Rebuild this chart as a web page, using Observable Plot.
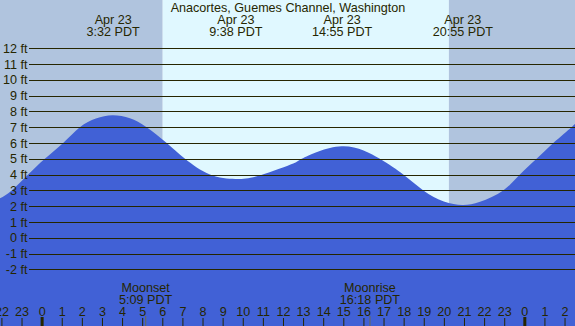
<!DOCTYPE html>
<html><head><meta charset="utf-8">
<script src="https://cdn.jsdelivr.net/npm/d3@7"></script>
<script src="https://cdn.jsdelivr.net/npm/@observablehq/plot@0.6"></script>
<style>body{margin:0;background:#fff}</style>
</head><body><div id="chart"></div>
<script>
const title = "Anacortes, Guemes Channel, Washington";
// hours relative to Apr 23 00:00 PDT, tide height in ft
const tideHours = [-2.07, -1.49, -0.67, 0.16, 1.07, 1.9, 2.7, 3.53, 4.39, 5.22, 6.22, 7.13, 8.37, 9.63, 10.85, 12.51, 12.93, 14.92, 16.82, 17.98, 18.98, 20.0, 20.92, 21.8, 22.95, 23.78, 24.61, 25.44, 26.35, 26.52];
const tideFeet  = [2.5, 3.0, 4.0, 5.0, 6.0, 7.0, 7.55, 7.75, 7.56, 7.0, 6.0, 5.0, 4.0, 3.72, 3.95, 4.7, 5.0, 5.8, 5.0, 4.0, 3.0, 2.3, 2.08, 2.28, 3.0, 4.0, 5.0, 6.0, 7.0, 7.25];
const extremeHours = [3.533, 9.633, 14.917, 20.917];
const extremeLabels = ["Apr 23\n3:32 PDT", "Apr 23\n9:38 PDT", "Apr 23\n14:55 PDT", "Apr 23\n20:55 PDT"];
const sunrise = 6.02, sunset = 20.25;
const moonHours = [5.15, 16.3];
const moonLabels = ["Moonset\n5:09 PDT", "Moonrise\n16:18 PDT"];
const feetTicks = [-2, -1, 0, 1, 2, 3, 4, 5, 6, 7, 8, 9, 10, 11, 12];
const hourTicks = [-2, -1, 0, 1, 2, 3, 4, 5, 6, 7, 8, 9, 10, 11, 12, 13, 14, 15, 16, 17, 18, 19, 20, 21, 22, 23, 24, 25, 26];
const xDomain = [-2.07, 26.52];
const yDomain = [-5.58, 15.05];

const nightColor = "#b0c4de", dayColor = "#e0f8ff", tideColor = "#4161d6", ink = "#262600";
const fs = 12.6;
const tide = tideHours.map((h, i) => ({h, ft: tideFeet[i]}));
const bands = [
  {x1: xDomain[0], x2: sunrise, fill: nightColor},
  {x1: sunrise, x2: sunset, fill: dayColor},
  {x1: sunset, x2: xDomain[1], fill: nightColor}
];
const mod24 = h => ((h % 24) + 24) % 24;

const chart = Plot.plot({
  width: 575, height: 326,
  margin: 0,
  x: {domain: xDomain, axis: null},
  y: {domain: yDomain, axis: null},
  style: {fontFamily: "'Liberation Sans', Arial, sans-serif", background: "transparent"},
  marks: [
    Plot.rect(bands, {x1: "x1", x2: "x2", y1: yDomain[0], y2: yDomain[1], fill: d => d.fill}),
    Plot.areaY(tide, {x: "h", y: "ft", y1: yDomain[0], fill: tideColor, curve: "natural"}),
    Plot.ruleY(feetTicks, {y: d => d, stroke: ink, strokeWidth: 1, insetLeft: 29, shapeRendering: "crispEdges"}),
    Plot.text(feetTicks, {y: d => d, text: d => `${d} ft`, frameAnchor: "left", dx: 27, textAnchor: "end", lineAnchor: "middle", fill: ink, fontSize: fs}),
    Plot.text([title], {frameAnchor: "top", dy: 7.5, lineAnchor: "middle", text: d => d, fill: ink, fontSize: fs}),
    Plot.text(extremeHours, {x: d => d, frameAnchor: "top", dy: 25.6, lineAnchor: "middle", lineHeight: 0.97, text: (d, i) => extremeLabels[i], fill: ink, fontSize: fs}),
    Plot.text(moonHours, {x: d => d, frameAnchor: "bottom", dy: -32.7, lineAnchor: "middle", lineHeight: 0.95, text: (d, i) => moonLabels[i], fill: ink, fontSize: fs}),
    Plot.text(hourTicks, {x: d => d, frameAnchor: "bottom", dy: -14.3, lineAnchor: "middle", text: d => String(mod24(d)), fill: ink, fontSize: fs}),
    Plot.ruleX(hourTicks.filter(h => mod24(h) !== 0), {x: d => d, insetTop: 318, stroke: ink, strokeWidth: 1}),
    Plot.ruleX(hourTicks.filter(h => mod24(h) === 0), {x: d => d, insetTop: 317, stroke: ink, strokeWidth: 3}),
    Plot.ruleX(moonHours, {x: d => d, insetTop: 316, stroke: "#6b6b50", strokeWidth: 1})
  ]
});
document.getElementById("chart").appendChild(chart);
</script>
</body></html>
